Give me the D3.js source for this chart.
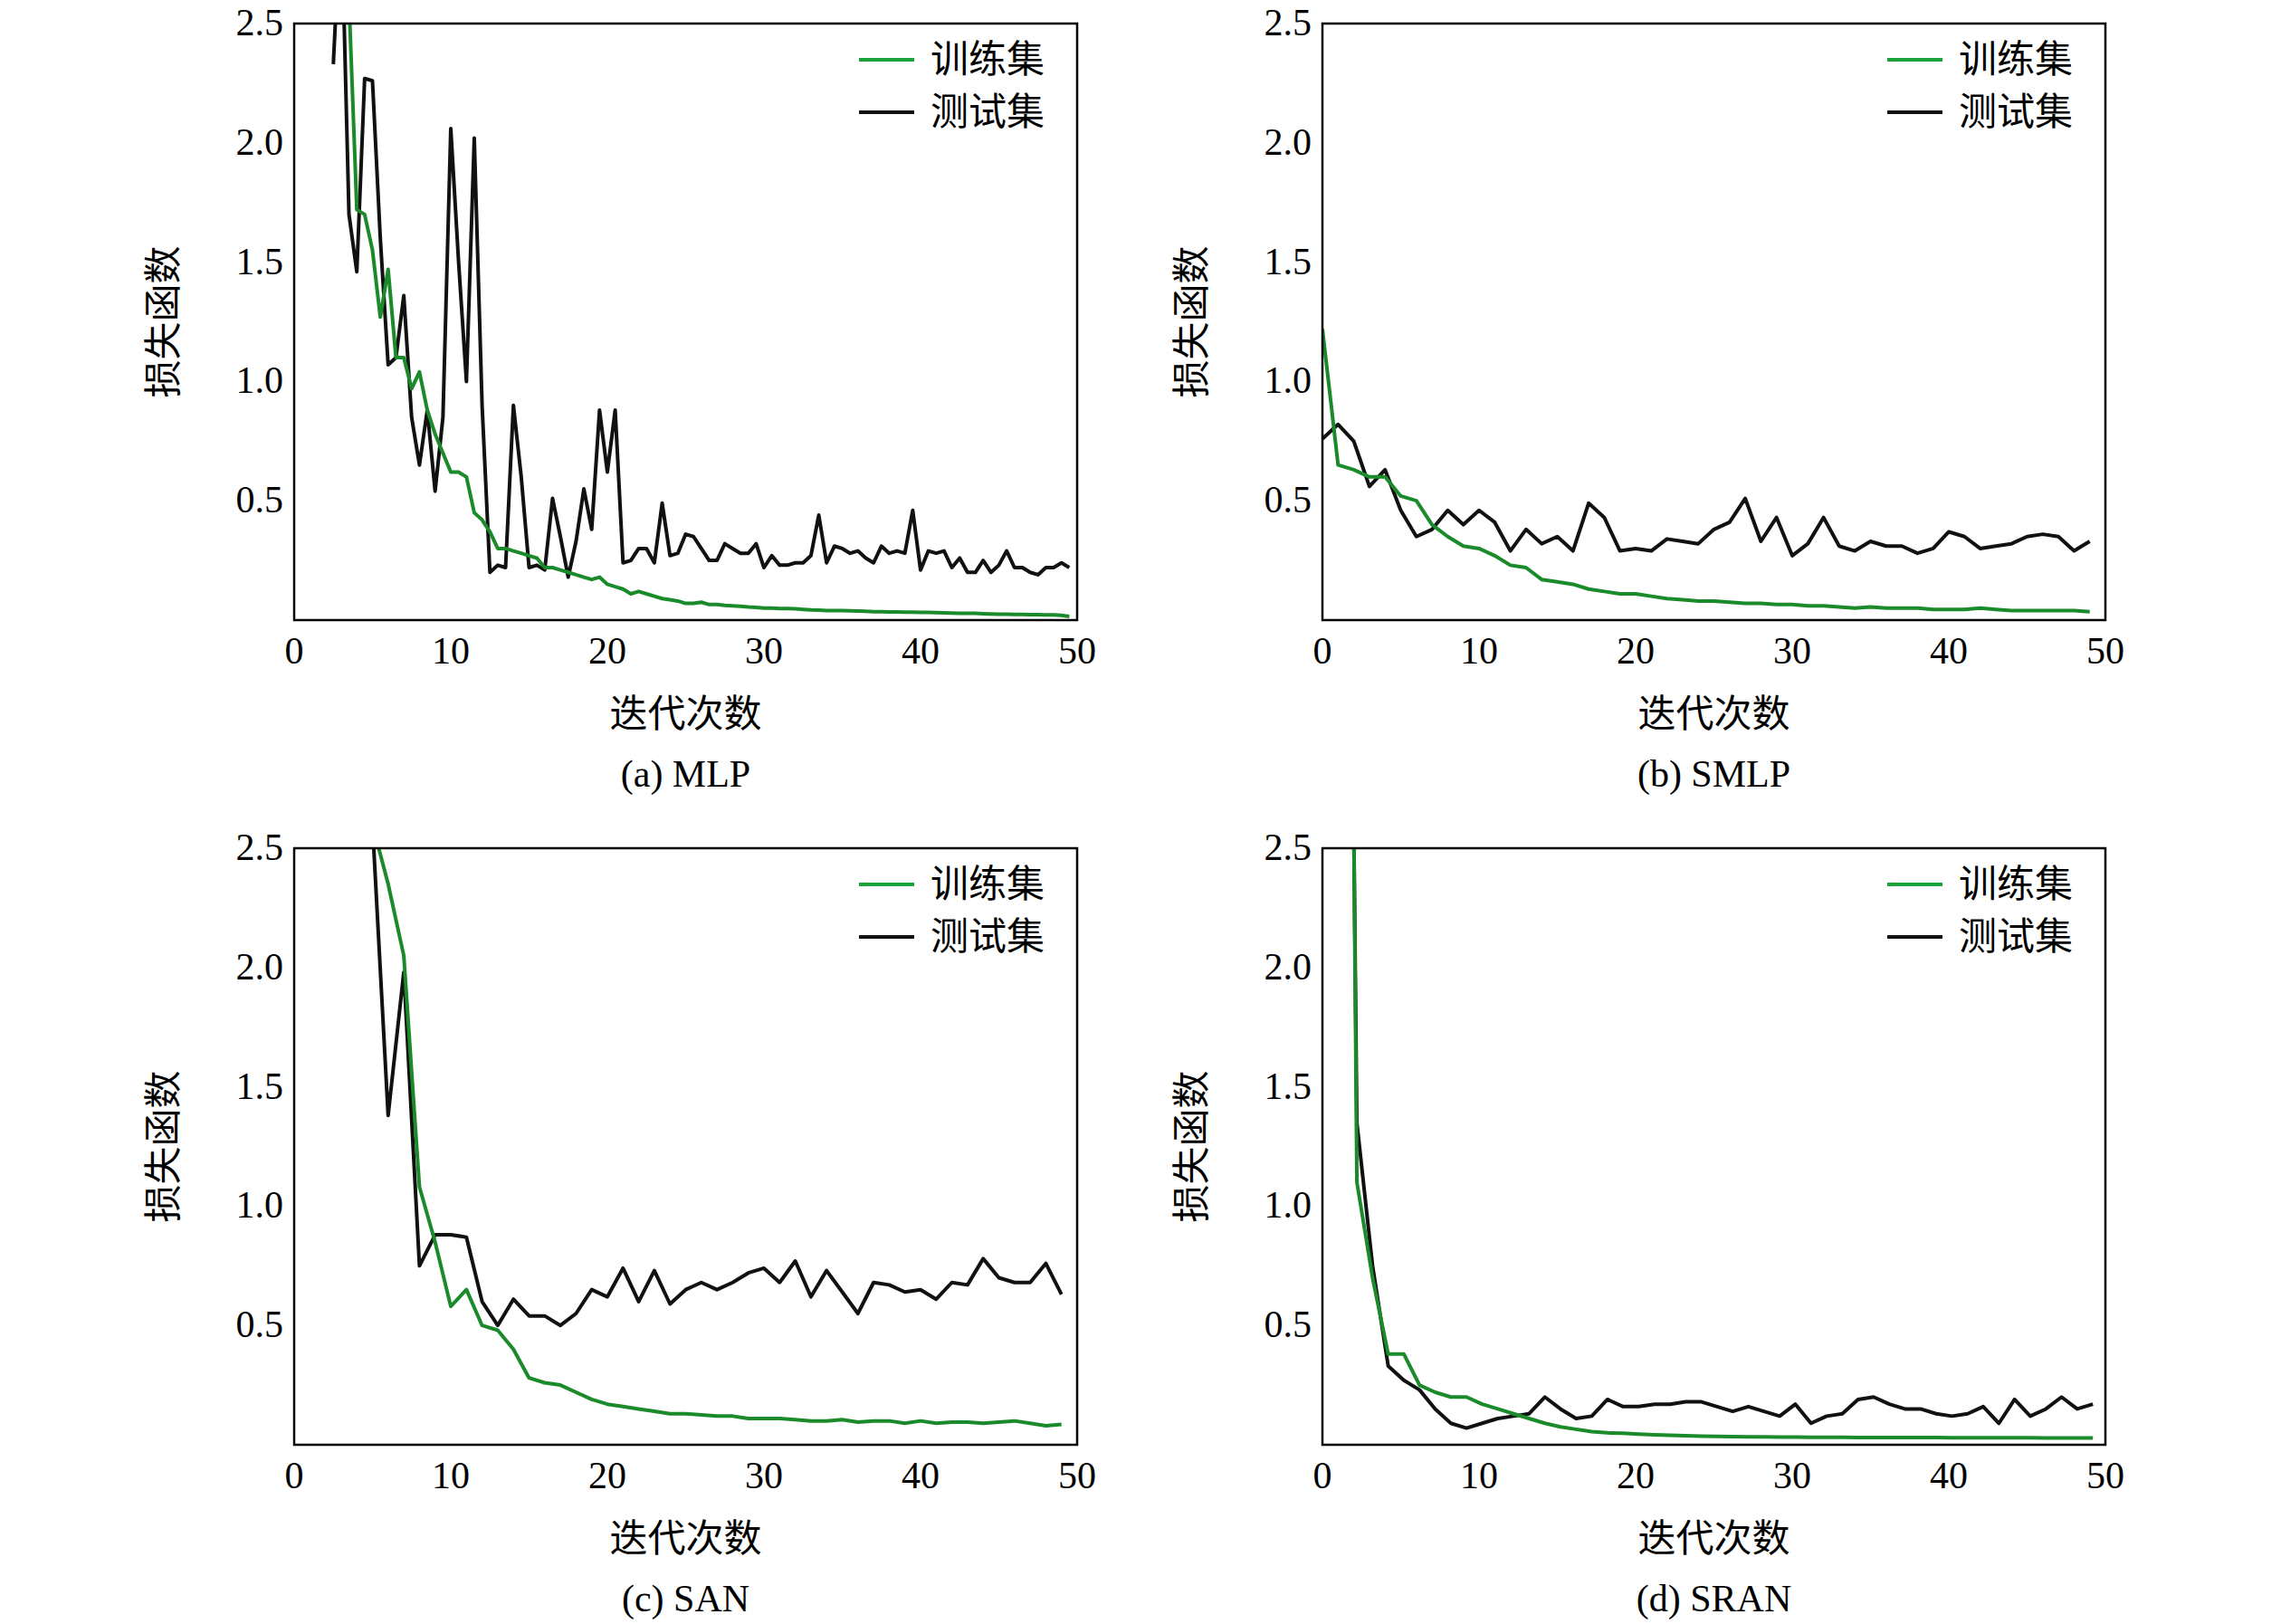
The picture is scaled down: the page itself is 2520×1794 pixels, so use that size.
<!DOCTYPE html>
<html><head><meta charset="utf-8">
<script src="https://cdn.jsdelivr.net/npm/d3@7"></script>
<style>body{margin:0;background:#fff}</style>
</head><body>
<svg width="2520" height="1794"></svg>
<script>
const xTicks = [0, 10, 20, 30, 40, 50]
const yTicks = [0.5, 1.0, 1.5, 2.0, 2.5]
const legendLabels = ['训练集', '测试集']
const captions = ['(a) MLP', '(b) SMLP', '(c) SAN', '(d) SRAN']

// MLP (half-epoch samples)
const mlpTestX = d3.range(2.5, 50, 0.5)
const mlpTest = [2.33,3.0,1.7,1.46,2.27,2.26,1.6,1.07,1.1,1.36,0.85,0.65,0.88,0.54,0.85,2.06,1.5,1.0,2.02,0.9,
  0.2,0.23,0.22,0.9,0.6,0.22,0.23,0.21,0.51,0.35,0.18,0.33,0.55,0.38,0.88,0.62,0.88,0.24,0.25,0.3,
  0.3,0.24,0.49,0.27,0.28,0.36,0.35,0.3,0.25,0.25,0.32,0.3,0.28,0.28,0.32,0.22,0.27,0.23,0.23,0.24,
  0.24,0.27,0.44,0.24,0.31,0.3,0.28,0.29,0.26,0.24,0.31,0.28,0.29,0.28,0.46,0.21,0.29,0.28,0.29,0.22,
  0.26,0.2,0.2,0.25,0.2,0.23,0.29,0.22,0.22,0.2,0.19,0.22,0.22,0.24,0.22]
const mlpTrainX = d3.range(3.5, 50, 0.5)
const mlpTrain = [2.6,1.72,1.7,1.55,1.27,1.47,1.1,1.1,0.97,1.04,0.88,0.78,0.7,0.62,0.62,0.6,0.45,0.42,0.37,0.3,
  0.3,0.29,0.28,0.27,0.26,0.22,0.22,0.21,0.2,0.19,0.18,0.17,0.18,0.15,0.14,0.13,0.11,0.12,0.11,0.1,
  0.09,0.085,0.08,0.07,0.07,0.075,0.065,0.065,0.062,0.06,0.058,0.055,0.053,0.05,0.05,0.048,0.048,0.047,0.045,0.043,
  0.042,0.04,0.04,0.04,0.039,0.038,0.037,0.035,0.035,0.034,0.034,0.033,0.033,0.032,0.032,0.031,0.03,0.029,0.028,0.028,
  0.028,0.027,0.026,0.025,0.025,0.024,0.024,0.023,0.023,0.022,0.022,0.02,0.015]

// SMLP
const smlpX = d3.range(0, 50)
const smlpTrain = [1.22,0.65,0.63,0.6,0.6,0.52,0.5,0.4,0.35,0.31,0.3,0.27,0.23,0.22,0.17,0.16,0.15,0.13,0.12,0.11,
  0.11,0.1,0.09,0.085,0.08,0.08,0.075,0.07,0.07,0.065,0.065,0.06,0.06,0.055,0.05,0.055,0.05,0.05,0.05,0.045,
  0.045,0.045,0.05,0.045,0.04,0.04,0.04,0.04,0.04,0.035]
const smlpTest = [0.76,0.82,0.75,0.56,0.63,0.46,0.35,0.38,0.46,0.4,0.46,0.41,0.29,0.38,0.32,0.35,0.29,0.49,0.43,0.29,
  0.3,0.29,0.34,0.33,0.32,0.38,0.41,0.51,0.33,0.43,0.27,0.32,0.43,0.31,0.29,0.33,0.31,0.31,0.28,0.3,
  0.37,0.35,0.3,0.31,0.32,0.35,0.36,0.35,0.29,0.33]

// SAN
const sanX = d3.range(5, 50)
const sanTrain = [2.6,2.35,2.05,1.08,0.85,0.58,0.65,0.5,0.48,0.4,0.28,0.26,0.25,0.22,0.19,0.17,0.16,0.15,0.14,0.13,
  0.13,0.125,0.12,0.12,0.11,0.11,0.11,0.105,0.1,0.1,0.105,0.095,0.1,0.1,0.09,0.1,0.09,0.095,0.095,0.09,
  0.095,0.1,0.09,0.08,0.085]
const sanTest = [2.6,1.38,1.98,0.75,0.88,0.88,0.87,0.6,0.5,0.61,0.54,0.54,0.5,0.55,0.65,0.62,0.74,0.6,0.73,0.59,
  0.65,0.68,0.65,0.68,0.72,0.74,0.68,0.77,0.62,0.73,0.64,0.55,0.68,0.67,0.64,0.65,0.61,0.68,0.67,0.78,
  0.7,0.68,0.68,0.76,0.63]

// SRAN
const sranTrainX = [2].concat(d3.range(2.2, 50))
const sranTrain = [2.6,1.1,0.7,0.38,0.38,0.25,0.22,0.2,0.2,0.17,0.15,0.13,0.11,0.09,0.075,0.065,0.055,0.05,0.048,0.045,
  0.042,0.04,0.038,0.036,0.035,0.034,0.033,0.033,0.032,0.032,0.031,0.031,0.031,0.03,0.03,0.03,0.03,0.03,0.03,0.029,
  0.029,0.029,0.029,0.029,0.029,0.028,0.028,0.028,0.028]
const sranTestX = [2].concat(d3.range(2.2, 50.2))
const sranTest = [2.6,1.35,0.75,0.33,0.27,0.23,0.15,0.09,0.07,0.09,0.11,0.12,0.13,0.2,0.15,0.11,0.12,0.19,0.16,0.16,
  0.17,0.17,0.18,0.18,0.16,0.14,0.16,0.14,0.12,0.17,0.09,0.12,0.13,0.19,0.2,0.17,0.15,0.15,0.13,0.12,
  0.13,0.16,0.09,0.19,0.12,0.15,0.2,0.15,0.17,0.15]

const panels = [
  {train: [mlpTrainX, mlpTrain], test: [mlpTestX, mlpTest]},
  {train: [smlpX, smlpTrain], test: [smlpX, smlpTest]},
  {train: [sanX, sanTrain], test: [sanX, sanTest]},
  {train: [sranTrainX, sranTrain], test: [sranTestX, sranTest]},
]

const svg = d3.select('svg')
const lefts = [325, 1461], tops = [26, 937]
const pw = 865, ph = 659
const serif = '"Liberation Serif", "Times New Roman", serif'
const cjk = '"Noto Sans CJK SC", sans-serif'
const green = '#1a8a2a', black = '#111'

panels.forEach((p, i) => {
  const g = svg.append('g').attr('transform', `translate(${lefts[i % 2]},${tops[Math.floor(i / 2)]})`)
  const x = d3.scaleLinear().domain([0, 50]).range([0, pw])
  const y = d3.scaleLinear().domain([0, 2.5]).range([ph, 0])

  g.append('clipPath').attr('id', 'c' + i).append('rect').attr('width', pw).attr('height', ph)

  const line = d3.line().x(d => x(d[0])).y(d => y(d[1]))
  const series = [[p.test, black], [p.train, green]]
  series.forEach(([s, col]) => {
    g.append('path')
      .datum(s[0].map((v, k) => [v, s[1][k]]))
      .attr('clip-path', `url(#c${i})`)
      .attr('d', line)
      .attr('fill', 'none')
      .attr('stroke', col)
      .attr('stroke-width', 4)
      .attr('stroke-linejoin', 'round')
  })

  g.append('rect').attr('width', pw).attr('height', ph)
    .attr('fill', 'none').attr('stroke', '#000').attr('stroke-width', 2.5)

  g.selectAll('.xt').data(xTicks).enter().append('text')
    .attr('x', d => x(d)).attr('y', ph + 48)
    .attr('text-anchor', 'middle').attr('font-family', serif).attr('font-size', 42)
    .text(d => d)
  g.selectAll('.yt').data(yTicks).enter().append('text')
    .attr('x', -12).attr('y', d => y(d) + 13)
    .attr('text-anchor', 'end').attr('font-family', serif).attr('font-size', 42)
    .text(d => d.toFixed(1))

  g.append('text').attr('x', pw / 2).attr('y', ph + 118)
    .attr('text-anchor', 'middle').attr('font-family', cjk).attr('font-size', 42)
    .text('迭代次数')
  g.append('text').attr('transform', `translate(-130,${ph / 2}) rotate(-90)`)
    .attr('text-anchor', 'middle').attr('font-family', cjk).attr('font-size', 42)
    .text('损失函数')
  g.append('text').attr('x', pw / 2).attr('y', ph + 184)
    .attr('text-anchor', 'middle').attr('font-family', serif).attr('font-size', 42)
    .text(captions[i])

  legendLabels.forEach((lab, k) => {
    const ly = 40 + k * 58
    g.append('line').attr('x1', pw - 241).attr('x2', pw - 180).attr('y1', ly).attr('y2', ly)
      .attr('stroke', k === 0 ? '#1aa33a' : black).attr('stroke-width', 4)
    g.append('text').attr('x', pw - 162).attr('y', ly + 14)
      .attr('font-family', cjk).attr('font-size', 42).text(lab)
  })
})
</script>
</body></html>
